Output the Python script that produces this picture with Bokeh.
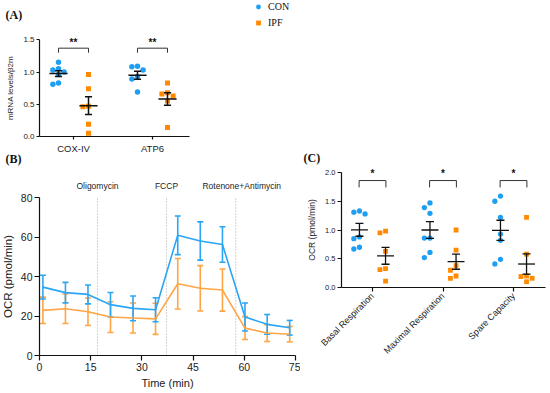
import math
import numpy as np
from bokeh.plotting import figure
from bokeh.models import (Range1d, FixedTicker, Label, Legend, LegendItem, Whisker,
                          TeeHead, ColumnDataSource, NumeralTickFormatter)
from bokeh.layouts import column, row
from bokeh.embed import file_html
from bokeh.resources import INLINE
from bokeh.core.properties import value

# ---------------- data ----------------
# Panel A : mRNA levels / b2m
genes = ["COX-IV", "ATP6"]
a_con = [[0.81, 1.00, 1.15, 0.96, 1.03, 1.05, 0.83],
         [1.09, 1.08, 0.93, 1.03, 0.89, 0.69]]
a_ipf = [[0.96, 0.74, 0.47, 0.46, 0.19, 0.05],
         [0.83, 0.66, 0.68, 0.63, 0.14, 0.55]]
a_sig = ["**", "**"]
a_yticks = [0.0, 0.5, 1.0, 1.5]

# Panel B : OCR time course (mean, SEM)
time_min = [1.0, 7.6, 14.2, 20.8, 27.4, 34.0, 40.5, 47.1, 53.6, 60.2, 66.7, 73.3]
ocr_con = [34.7, 31.9, 31.0, 25.8, 23.9, 23.2, 61.0, 58.1, 56.3, 19.5, 15.8, 14.1]
sem_con = [6.0, 5.2, 4.8, 6.2, 6.3, 6.1, 9.8, 9.7, 9.0, 7.1, 5.0, 3.7]
ocr_ipf = [22.9, 23.7, 22.2, 19.5, 19.0, 18.6, 36.4, 34.1, 33.2, 13.9, 11.4, 10.8]
sem_ipf = [6.7, 7.5, 7.0, 7.8, 7.6, 7.9, 12.8, 11.5, 10.7, 5.8, 4.3, 3.9]
injections = ["Oligomycin", "FCCP", "Rotenone+Antimycin"]
inject_time = [17.0, 37.2, 57.5]
b_xticks = [0, 15, 30, 45, 60, 75]
b_yticks = [0, 20, 40, 60, 80]

# Panel C : OCR normalised
measures = ["Basal Respiration", "Maximal Respiration", "Spare Capacity"]
c_con = [[1.28, 1.31, 1.33, 0.88, 0.85, 0.67, 0.70],
         [1.47, 1.39, 1.29, 0.86, 0.86, 0.61, 0.52],
         [1.59, 1.50, 1.22, 0.93, 0.82, 0.49, 0.41]]
c_ipf = [[0.95, 0.98, 0.63, 0.31, 0.33, 0.11],
         [1.00, 0.65, 0.38, 0.30, 0.16, 0.20],
         [1.22, 0.58, 0.20, 0.19, 0.16, 0.10]]
c_sig = ["*", "*", "*"]
c_yticks = [0.0, 0.5, 1.0, 1.5, 2.0]

# ---------------- style ----------------
BLUE = "#1E9FF2"
ORANGE = "#FF8A00"
BLUE_B = "#2AA6F5"
ORANGE_B = "#FFA544"
SANS = "Liberation Sans"
SERIF = "Liberation Serif"
TXT = "#222222"


def base_fig(w, h, x0_px, x_ppu, x_ref, y0_px, y_ppu):
    """Figure whose frame fills the canvas; data value x_ref sits at pixel x0_px,
    y = 0 at pixel row y0_px (from top)."""
    xr = (x_ref - x0_px / x_ppu, x_ref + (w - x0_px) / x_ppu)
    yr = (-(h - y0_px) / y_ppu, y0_px / y_ppu)
    p = figure(width=w, height=h, x_range=Range1d(*xr), y_range=Range1d(*yr),
               output_backend="svg", toolbar_location=None, title=None,
               min_border_left=0, min_border_right=0, min_border_top=0,
               min_border_bottom=0)
    p.outline_line_color = None
    p.xgrid.visible = False
    p.ygrid.visible = False
    p.background_fill_color = None
    p.border_fill_color = None
    for ax in (p.xaxis[0], p.yaxis[0]):
        ax.axis_line_color = "#111111"
        ax.axis_line_width = 1.2
        ax.major_tick_line_color = "#111111"
        ax.major_tick_line_width = 1.2
        ax.major_tick_in = 0
        ax.minor_tick_line_color = None
        ax.major_label_text_font = SANS
        ax.major_label_text_color = TXT
        ax.axis_label_text_font = SANS
        ax.axis_label_text_font_style = "normal"
        ax.axis_label_text_color = TXT
    return p


def swarm(vals, ppu_x, ppu_y, d=5.6):
    order = sorted(range(len(vals)), key=lambda i: -vals[i])
    placed = []
    offs = [0.0] * len(vals)
    for i in order:
        ypx = vals[i] * ppu_y
        xpx = 0.0
        for k in [0, -1, 1, -2, 2, -3, 3]:
            xpx = k * d
            if all((xpx - px) ** 2 + (ypx - py) ** 2 >= d * d for px, py in placed):
                break
        placed.append((xpx, ypx))
        offs[i] = xpx / ppu_x
    return offs


def add_stats(p, xc, vals, hm, hc, lw):
    m = float(np.mean(vals))
    s = float(np.std(vals, ddof=1) / math.sqrt(len(vals)))
    p.segment(x0=[xc - hm, xc, xc - hc, xc - hc], y0=[m, m - s, m - s, m + s],
              x1=[xc + hm, xc, xc + hc, xc + hc], y1=[m, m + s, m - s, m + s],
              line_color="#111111", line_width=lw)


def scatter_groups(p, groups_con, groups_ipf, off, ppu_x, ppu_y, size):
    xs_c, ys_c, xs_i, ys_i = [], [], [], []
    for gi, (vc, vi) in enumerate(zip(groups_con, groups_ipf)):
        cat = gi + 1
        oc = swarm(vc, ppu_x, ppu_y)
        oi = swarm(vi, ppu_x, ppu_y)
        xs_c += [cat - off + o for o in oc]
        ys_c += list(vc)
        xs_i += [cat + off + o for o in oi]
        ys_i += list(vi)
    rc = p.scatter(xs_c, ys_c, marker="circle", size=size, fill_color=BLUE, line_color=None)
    ri = p.scatter(xs_i, ys_i, marker="square", size=size - 0.5, fill_color=ORANGE, line_color=None)
    return rc, ri


def add_sig(p, n, off, y_leg, y_top, y_star, sig, size):
    for gi in range(n):
        cat = gi + 1
        x0, x1 = cat - off, cat + off
        p.line([x0, x0, x1, x1], [y_leg, y_top, y_top, y_leg], line_color="#333333", line_width=1)
    p.text(x=[g + 1 for g in range(n)], y=[y_star] * n, text=sig, text_align="center",
           text_baseline="middle", text_font=value(SANS), text_font_size=size,
           text_font_style="bold", text_color="#111111")


def panel_label(p, x, y, txt):
    p.add_layout(Label(x=x, y=y, x_units="screen", y_units="screen", text=txt,
                       text_font=SERIF, text_font_size="12px", text_font_style="bold",
                       text_baseline="middle", text_color="#111111"))


# ---------------- Panel A  (canvas x 0-300, y 0-152) ----------------
A_PPX, A_PPY = 79.0, 64.47
pA = base_fig(300, 152, 73, A_PPX, 1.0, 136, A_PPY)
A_YAX = 1.0 - 34 / A_PPX
rA_c, rA_i = scatter_groups(pA, a_con, a_ipf, 0.19, A_PPX, A_PPY, 5.5)
for gi in range(len(genes)):
    add_stats(pA, gi + 1 - 0.19, a_con[gi], 0.115, 0.045, 1.5)
    add_stats(pA, gi + 1 + 0.19, a_ipf[gi], 0.115, 0.045, 1.5)
add_sig(pA, len(genes), 0.19, 1.30, 1.37, 1.455, a_sig, "10px")
pA.xaxis.fixed_location = 0
pA.yaxis.fixed_location = A_YAX
pA.xaxis.ticker = FixedTicker(ticks=[1, 2])
pA.xaxis.major_label_overrides = {i + 1: g for i, g in enumerate(genes)}
pA.xaxis.bounds = (A_YAX, 2.47)
pA.xaxis.major_tick_out = 3
pA.xaxis.major_label_standoff = 3
pA.xaxis.major_label_text_font_size = "9.5px"
pA.yaxis.ticker = FixedTicker(ticks=a_yticks)
pA.yaxis.formatter = NumeralTickFormatter(format="0.0")
pA.yaxis.bounds = (0, 1.5)
pA.yaxis.major_tick_out = 3
pA.yaxis.major_label_standoff = 2
pA.yaxis.major_label_text_font_size = "8px"
pA.yaxis.axis_label = "mRNA levels/\u03b22m"
pA.yaxis.axis_label_text_font_size = "8px"
pA.yaxis.axis_label_standoff = 5
legA = Legend(items=[LegendItem(label="CON", renderers=[rA_c]),
                     LegendItem(label="IPF", renderers=[rA_i])],
              location=(252, 123), orientation="vertical", glyph_width=12, glyph_height=13,
              label_standoff=4, spacing=3, padding=0, margin=0, border_line_color=None,
              background_fill_alpha=0, label_text_font=SERIF, label_text_font_size="10px",
              label_height=13, label_text_color="#111111")
pA.add_layout(legA)
panel_label(pA, 5, 138, "(A)")

# ---------------- Panel B  (canvas x 0-300, y 152-393) ----------------
B_PPX, B_PPY = 256 / 75, 1.971
pB = base_fig(300, 241, 39, B_PPX, 0.0, 355 - 152, B_PPY)
pB.segment(x0=inject_time, y0=[0] * 3, x1=inject_time, y1=[80] * 3,
           line_color="#A8A8A8", line_width=1, line_dash="1 2")
pB.text(x=inject_time, y=[86.2] * 3, text=injections, x_offset=[0, 0, 6],
        text_align="center", text_baseline="middle", text_font=value(SANS),
        text_font_size="8.5px", text_color=TXT)
for mean, sem, col in ((ocr_ipf, sem_ipf, ORANGE_B), (ocr_con, sem_con, BLUE_B)):
    src = ColumnDataSource(dict(t=time_min, m=mean,
                                lo=[a - b for a, b in zip(mean, sem)],
                                hi=[a + b for a, b in zip(mean, sem)]))
    pB.add_layout(Whisker(source=src, base="t", upper="hi", lower="lo", dimension="height",
                          line_color=col, line_width=1.6,
                          upper_head=TeeHead(size=6, line_color=col, line_width=1.6),
                          lower_head=TeeHead(size=6, line_color=col, line_width=1.6)))
    pB.line("t", "m", source=src, line_color=col, line_width=1.6)
pB.xaxis.fixed_location = 0
pB.yaxis.fixed_location = 0
pB.xaxis.ticker = FixedTicker(ticks=b_xticks)
pB.yaxis.ticker = FixedTicker(ticks=b_yticks)
pB.xaxis.bounds = (0, 75)
pB.yaxis.bounds = (0, 80)
pB.xaxis.major_tick_out = 5
pB.yaxis.major_tick_out = 5
pB.xaxis.major_label_standoff = 2
pB.yaxis.major_label_standoff = 2
pB.xaxis.major_label_text_font_size = "10.5px"
pB.yaxis.major_label_text_font_size = "10.5px"
pB.xaxis.axis_label = "Time (min)"
pB.xaxis.axis_label_text_font_size = "11px"
pB.xaxis.axis_label_standoff = 3
pB.yaxis.axis_label = "OCR (pmol/min)"
pB.yaxis.axis_label_text_font_size = "11.5px"
pB.yaxis.axis_label_standoff = 4
panel_label(pB, 5, 393 - 158, "(B)")

# ---------------- Panel C  (canvas x 300-550, y 0-393) ----------------
C_PPX, C_PPY = 70.5, 57.5
pC = base_fig(250, 393, 72, C_PPX, 1.0, 287, C_PPY)
C_YAX = 1.0 - 31 / C_PPX
scatter_groups(pC, c_con, c_ipf, 0.185, C_PPX, C_PPY, 5.3)
for gi in range(len(measures)):
    add_stats(pC, gi + 1 - 0.185, c_con[gi], 0.12, 0.057, 1.3)
    add_stats(pC, gi + 1 + 0.185, c_ipf[gi], 0.12, 0.057, 1.3)
add_sig(pC, len(measures), 0.19, 1.74, 1.86, 1.985, c_sig, "10px")
pC.xaxis.fixed_location = 0
pC.yaxis.fixed_location = C_YAX
pC.xaxis.ticker = FixedTicker(ticks=[1, 2, 3])
pC.xaxis.major_label_overrides = {i + 1: m for i, m in enumerate(measures)}
pC.xaxis.major_label_orientation = math.pi / 4
pC.xaxis.bounds = (C_YAX, 1.0 + 173 / C_PPX)
pC.xaxis.major_tick_out = 4
pC.xaxis.major_label_standoff = 3
pC.xaxis.major_label_text_font_size = "9px"
pC.yaxis.ticker = FixedTicker(ticks=c_yticks)
pC.yaxis.formatter = NumeralTickFormatter(format="0.0")
pC.yaxis.bounds = (0, 2)
pC.yaxis.major_tick_out = 4
pC.yaxis.major_label_standoff = 2
pC.yaxis.major_label_text_font_size = "7.5px"
pC.yaxis.axis_label = "OCR (pmol/min)"
pC.yaxis.axis_label_text_font_size = "8.5px"
pC.yaxis.axis_label_standoff = 5
panel_label(pC, 3, 393 - 157, "(C)")

layout = row(column(pA, pB), pC)
open("out.html", "w").write(file_html(layout, INLINE))
